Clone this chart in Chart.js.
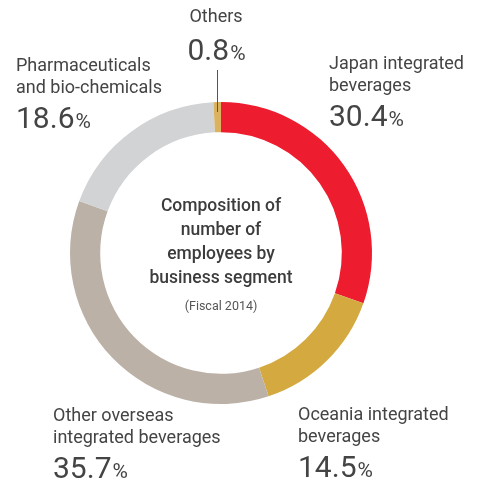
<!DOCTYPE html>
<html>
<head>
<meta charset="utf-8">
<script src="https://cdn.jsdelivr.net/npm/chart.js@4"></script>
<style>
  html, body { margin: 0; padding: 0; background: #fff; }
  canvas { display: block; }
</style>
</head>
<body>
<canvas class="js-chart" width="485" height="488"></canvas>
<script>
const ctx = document.querySelector(".js-chart").getContext("2d");

// segments, clockwise from 12 o'clock
const segments = [
  "Japan integrated beverages",
  "Oceania integrated beverages",
  "Other overseas integrated beverages",
  "Pharmaceuticals and bio-chemicals",
  "Others",
];
const shares = [30.4, 14.5, 35.7, 18.6, 0.8];
const colors = ["#ed1c2e", "#d4aa40", "#bbb1a7", "#d1d3d4", "#dab260"];

// label text lines per segment
const labelLines = [
  ["Japan integrated", "beverages"],
  ["Oceania integrated", "beverages"],
  ["Other overseas", "integrated beverages"],
  ["Pharmaceuticals", "and bio-chemicals"],
  ["Others"],
];
const titleLines = ["Composition of", "number of", "employees by", "business segment"];
const subtitle = "(Fiscal 2014)";

const FONT = "Roboto, 'DejaVu Sans', sans-serif";
const TEXT = "#444";

// where each label block sits: x, first baseline, align
const labelPos = [
  { x: 329, y: 69, align: "left" },
  { x: 298, y: 420, align: "left" },
  { x: 53, y: 421, align: "left" },
  { x: 16, y: 71, align: "left" },
  { x: 216, y: 22, align: "center" },
];

function drawValue(c, value, x, y, align) {
  const num = value.toFixed(1);
  c.font = "30px " + FONT;
  const wNum = c.measureText(num).width;
  c.font = "21px " + FONT;
  const wPct = c.measureText("%").width;
  let left = x;
  if (align === "center") left = x - (wNum + wPct) / 2;
  c.textAlign = "left";
  c.font = "30px " + FONT;
  c.fillText(num, left, y);
  c.font = "21px " + FONT;
  c.fillText("%", left + wNum + 1, y);
}

const labelsPlugin = {
  id: "segmentLabels",
  afterDraw(chart) {
    const c = chart.ctx;
    const meta = chart.getDatasetMeta(0);
    c.save();
    c.fillStyle = TEXT;
    c.textBaseline = "alphabetic";

    shares.forEach((value, i) => {
      const p = labelPos[i];
      c.font = "18px " + FONT;
      c.textAlign = p.align;
      labelLines[i].forEach((line, j) => c.fillText(line, p.x, p.y + j * 22));
      const valueY = p.y + (labelLines[i].length - 1) * 22 + (labelLines[i].length > 1 ? 35 : 38);
      drawValue(c, value, p.x, valueY, p.align);
    });

    // leader line for the thin "Others" slice
    const arc = meta.data[4];
    const mid = (arc.startAngle + arc.endAngle) / 2;
    const lx = arc.x + Math.cos(mid) * (arc.outerRadius - 10);
    const ly = arc.y + Math.sin(mid) * (arc.outerRadius - 10);
    c.strokeStyle = "#555";
    c.lineWidth = 1;
    c.beginPath();
    c.moveTo(Math.round(lx) + 0.5, 70);
    c.lineTo(Math.round(lx) + 0.5, ly);
    c.stroke();

    // centre caption
    const cx = arc.x;
    c.textAlign = "center";
    c.fillStyle = "#3c3c3c";
    c.font = "500 17.5px " + FONT;
    titleLines.forEach((line, j) => c.fillText(line, cx, 211 + j * 24));
    c.font = "12.5px " + FONT;
    c.fillStyle = "#555";
    c.fillText(subtitle, cx, 310);
    c.restore();
  },
};

new Chart(ctx, {
  type: "doughnut",
  data: {
    labels: segments,
    datasets: [
      {
        data: shares,
        backgroundColor: colors,
        borderWidth: 0,
      },
    ],
  },
  options: {
    responsive: false,
    animation: false,
    cutout: "80%",
    layout: { padding: { left: 70, right: 113, top: 102, bottom: 84 } },
    plugins: {
      legend: { display: false },
      tooltip: { enabled: false },
    },
  },
  plugins: [labelsPlugin],
});
</script>
</body>
</html>
